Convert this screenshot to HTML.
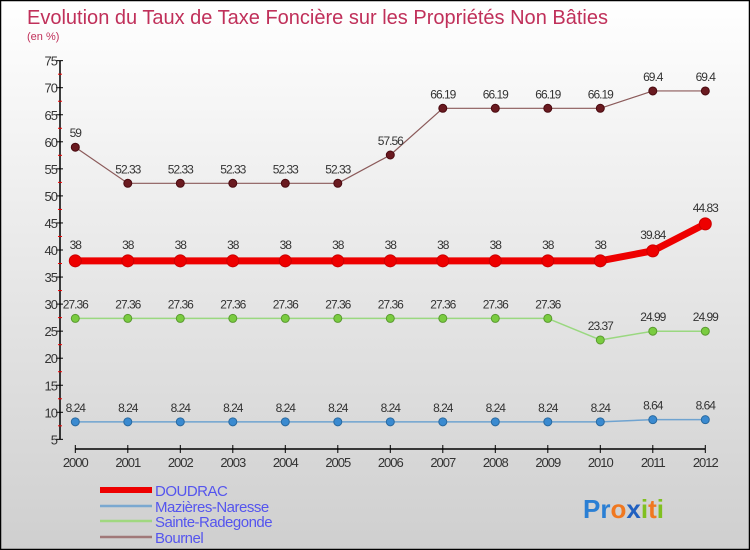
<!DOCTYPE html>
<html><head><meta charset="utf-8"><style>
body{margin:0;width:750px;height:550px;overflow:hidden}
svg{display:block;font-family:"Liberation Sans",sans-serif}
</style></head><body>
<svg width="750" height="550">
<defs><linearGradient id="bg" x1="0" y1="0" x2="0" y2="1"><stop offset="0" stop-color="#ffffff"/><stop offset="1" stop-color="#cfcfcf"/></linearGradient></defs>
<rect x="0.5" y="0.5" width="749" height="549" fill="url(#bg)" stroke="#000" stroke-width="1.5"/>
<text x="27" y="24" font-size="20" fill="#c0305a" textLength="581" lengthAdjust="spacingAndGlyphs">Evolution du Taux de Taxe Foncière sur les Propriétés Non Bâties</text>
<text x="27" y="40" font-size="11" fill="#c0305a">(en %)</text>
<g id="axes"></g>
<g id="series"></g>
<g id="legend"></g>
<text x="583" y="518" font-size="26" font-weight="bold"><tspan fill="#2a7fd4">Pr</tspan><tspan fill="#f07820">o</tspan><tspan fill="#2060c0">x</tspan><tspan fill="#80c020">i</tspan><tspan fill="#f07820">t</tspan><tspan fill="#80c020">i</tspan></text>
</svg>
<script>
const years=[2000,2001,2002,2003,2004,2005,2006,2007,2008,2009,2010,2011,2012];
const yTicks=[5,10,15,20,25,30,35,40,45,50,55,60,65,70,75];
const doudrac=[38,38,38,38,38,38,38,38,38,38,38,39.84,44.83];
const mazieres=[8.24,8.24,8.24,8.24,8.24,8.24,8.24,8.24,8.24,8.24,8.24,8.64,8.64];
const sainte=[27.36,27.36,27.36,27.36,27.36,27.36,27.36,27.36,27.36,27.36,23.37,24.99,24.99];
const bournel=[59,52.33,52.33,52.33,52.33,52.33,57.56,66.19,66.19,66.19,66.19,69.4,69.4];
const NS="http://www.w3.org/2000/svg";
const X=i=>75.3+i*52.5;
const Y=v=>412.3-(v-10)*5.41;
function mk(t,a,p){const e=document.createElementNS(NS,t);for(const k in a)e.setAttribute(k,a[k]);p.appendChild(e);return e;}
const ax=document.getElementById('axes');
let e=mk('line',{x1:60,y1:Y(75),x2:60,y2:Y(5),stroke:'#000','stroke-width':1.5},ax);

yTicks.forEach(v=>{
 let t=mk('line',{x1:56,x2:63,y1:Y(v),y2:Y(v),stroke:'#000'},ax);
 
 if(v<75){let m=mk('line',{x1:58,x2:62,y1:Y(v+2.5),y2:Y(v+2.5),stroke:'#e00'},ax);
 }
 let l=mk('text',{x:57,y:Y(v)+5,'font-size':13,fill:'#333','text-anchor':'end','letter-spacing':'-1'},ax);l.textContent=v;
 
});
e=mk('line',{x1:X(0),y1:449,x2:X(12),y2:449,stroke:'#000','stroke-width':1.5},ax);

years.forEach((y,i)=>{
 let t=mk('line',{x1:X(i),x2:X(i),y1:445,y2:453,stroke:'#000'},ax);
 
 let l=mk('text',{x:X(i),y:467,'font-size':13,fill:'#333','text-anchor':'middle','letter-spacing':'-1'},ax);l.textContent=y;
 
});
const sg=document.getElementById('series');
function series(name,data,color,w,r,dot,dstroke){
 const g=mk('g',{},sg);
 let p=mk('polyline',{points:data.map((v,i)=>X(i)+','+Y(v)).join(' '),fill:'none',stroke:color,'stroke-width':w,'stroke-linejoin':'round'},g);
 
 data.forEach((v,i)=>{
  let c=mk('circle',{cx:X(i),cy:Y(v),r:r,fill:dot,stroke:dstroke,'stroke-width':1},g);
  
  let l=mk('text',{x:X(i),y:Y(v)-(r+6),'font-size':12,fill:'#333','text-anchor':'middle','letter-spacing':'-1'},g);l.textContent=v;
  
 });
}
series('bournel',bournel,'#8b5a5a',1.2,4,'#6a1a20','#4a0a10');
series('sainte-radegonde',sainte,'#9ad880',1.5,4,'#7acc40','#5a9a30');
series('mazieres-naresse',mazieres,'#6fa3d0',1.5,4,'#3a8ad0','#2a6aa0');
series('doudrac',doudrac,'#ee0000',7,6,'#ee0000','#cc0000');
const lg=document.getElementById('legend');
[['DOUDRAC','#ee0000',6,492],['Mazières-Naresse','#7aa8d0',2.5,508],['Sainte-Radegonde','#a0d880',2.5,523],['Bournel','#a07878',2.5,539]].forEach(d=>{
 let l=mk('line',{x1:100,x2:152,y1:d[3]-2,y2:d[3]-2,stroke:d[1],'stroke-width':d[2]},lg);
 
 let t=mk('text',{x:155,y:d[3]+4,'font-size':15,fill:'#5555ee','letter-spacing':'-0.5'},lg);t.textContent=d[0];
 
});
</script>
</body></html>
